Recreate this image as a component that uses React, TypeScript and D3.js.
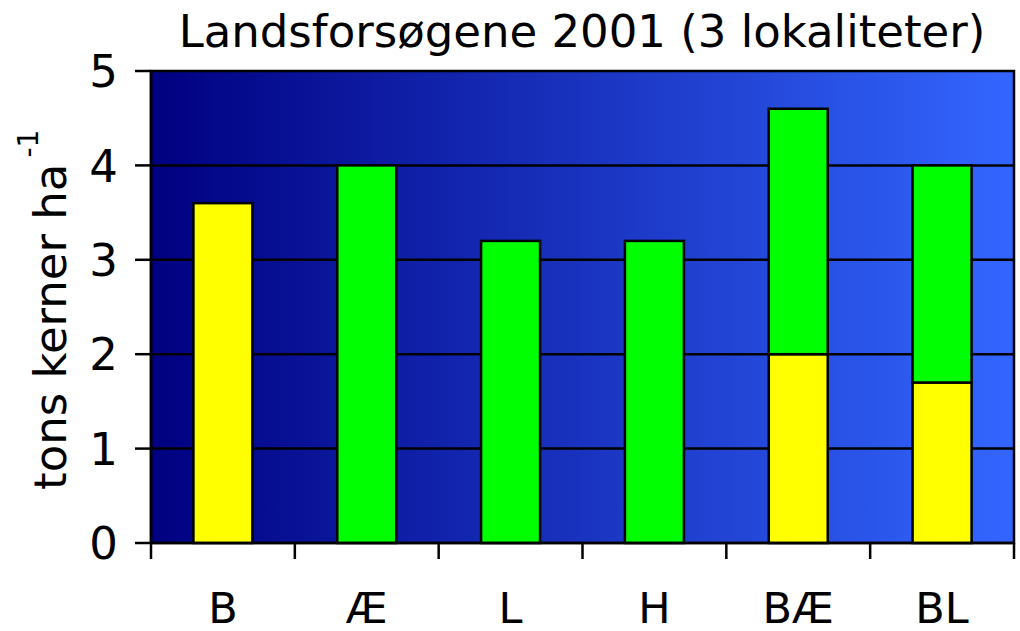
import React from "react";
import { scaleBand, scaleLinear, stack } from "d3";

const width = 1020;
const height = 631;

const margin = { top: 71, right: 6, bottom: 88, left: 151 };

const categories = ["B", "Æ", "L", "H", "BÆ", "BL"];
const yellowValues = [3.6, 0, 0, 0, 2.0, 1.7];
const greenValues = [0, 4.0, 3.2, 3.2, 2.6, 2.3];
const yTicks = [0, 1, 2, 3, 4, 5];

const seriesKeys = ["yellow", "green"];
const seriesColors: Record<string, string> = { yellow: "#FFFF00", green: "#00FF00" };

const titleText = "Landsforsøgene 2001 (3 lokaliteter)";
const font = "Tahoma, 'DejaVu Sans', Verdana, sans-serif";

const rows = categories.map((c, i) => ({
  cat: c,
  yellow: yellowValues[i],
  green: greenValues[i],
}));

export default function App() {
  const innerWidth = width - margin.left - margin.right;
  const innerHeight = height - margin.top - margin.bottom;

  const xScale = scaleBand<string>().domain(categories).range([0, innerWidth]).paddingInner(0).paddingOuter(0);
  const bw = xScale.bandwidth() * 0.41;

  const yScale = scaleLinear().domain([0, 5]).range([innerHeight, 0]);

  const stacked = stack<any>().keys(seriesKeys)(rows);

  const boundaries = categories.map((c) => xScale(c) as number).concat([innerWidth]);

  return (
    <svg width={width} height={height} style={{ position: "absolute", left: 0, top: 0, background: "#fff" }}>
      <defs>
        <linearGradient id="bg" x1="0" x2="1" y1="0" y2="0">
          <stop offset="0%" stopColor="#000080" />
          <stop offset="100%" stopColor="#3366FF" />
        </linearGradient>
      </defs>
      <text x={582} y={47} textAnchor="middle" fontFamily={font} fontSize={45} fill="#000">
        {titleText}
      </text>
      <g transform={`translate(${margin.left},${margin.top})`}>
        <rect x={0} y={0} width={innerWidth} height={innerHeight} fill="url(#bg)" stroke="#000" strokeWidth={2.5} />
        {/* gridlines */}
        {yTicks.slice(1, -1).map((t) => (
          <line key={t} x1={0} x2={innerWidth} y1={yScale(t)} y2={yScale(t)} stroke="#000" strokeWidth={2.5} />
        ))}
        {/* bars */}
        {stacked.map((layer) =>
          layer.map((d, i) =>
            d[1] - d[0] > 0 ? (
              <rect
                key={layer.key + i}
                x={(xScale(categories[i]) as number) + (xScale.bandwidth() - bw) / 2}
                y={yScale(d[1])}
                width={bw}
                height={yScale(d[0]) - yScale(d[1])}
                fill={seriesColors[layer.key]}
                stroke="#000"
                strokeWidth={2.5}
              />
            ) : null
          )
        )}
        {/* y axis */}
        <line x1={0} x2={0} y1={0} y2={innerHeight} stroke="#000" strokeWidth={2.5} />
        {yTicks.map((t) => (
          <g key={t} transform={`translate(0,${yScale(t)})`}>
            <line x1={-16} x2={0} stroke="#000" strokeWidth={2.5} />
            <text x={-33} dy="0.36em" textAnchor="end" fontFamily={font} fontSize={45} fill="#000">
              {t}
            </text>
          </g>
        ))}
        {/* x axis */}
        <line x1={0} x2={innerWidth} y1={innerHeight} y2={innerHeight} stroke="#000" strokeWidth={2.5} />
        {boundaries.map((b, i) => (
          <line key={i} x1={b} x2={b} y1={innerHeight} y2={innerHeight + 16} stroke="#000" strokeWidth={2.5} />
        ))}
        {categories.map((c) => (
          <text
            key={c}
            x={(xScale(c) as number) + xScale.bandwidth() / 2}
            y={innerHeight + 80}
            textAnchor="middle"
            fontFamily={font}
            fontSize={43}
            fill="#000"
          >
            {c}
          </text>
        ))}
      </g>
      <text
        transform={`translate(66,490) rotate(-90)`}
        textAnchor="start"
        fontFamily={font}
        fontSize={45}
        fill="#000"
      >
        tons kerner ha
        <tspan dy={-28} dx={6} fontSize={28}>-1</tspan>
      </text>
    </svg>
  );
}
